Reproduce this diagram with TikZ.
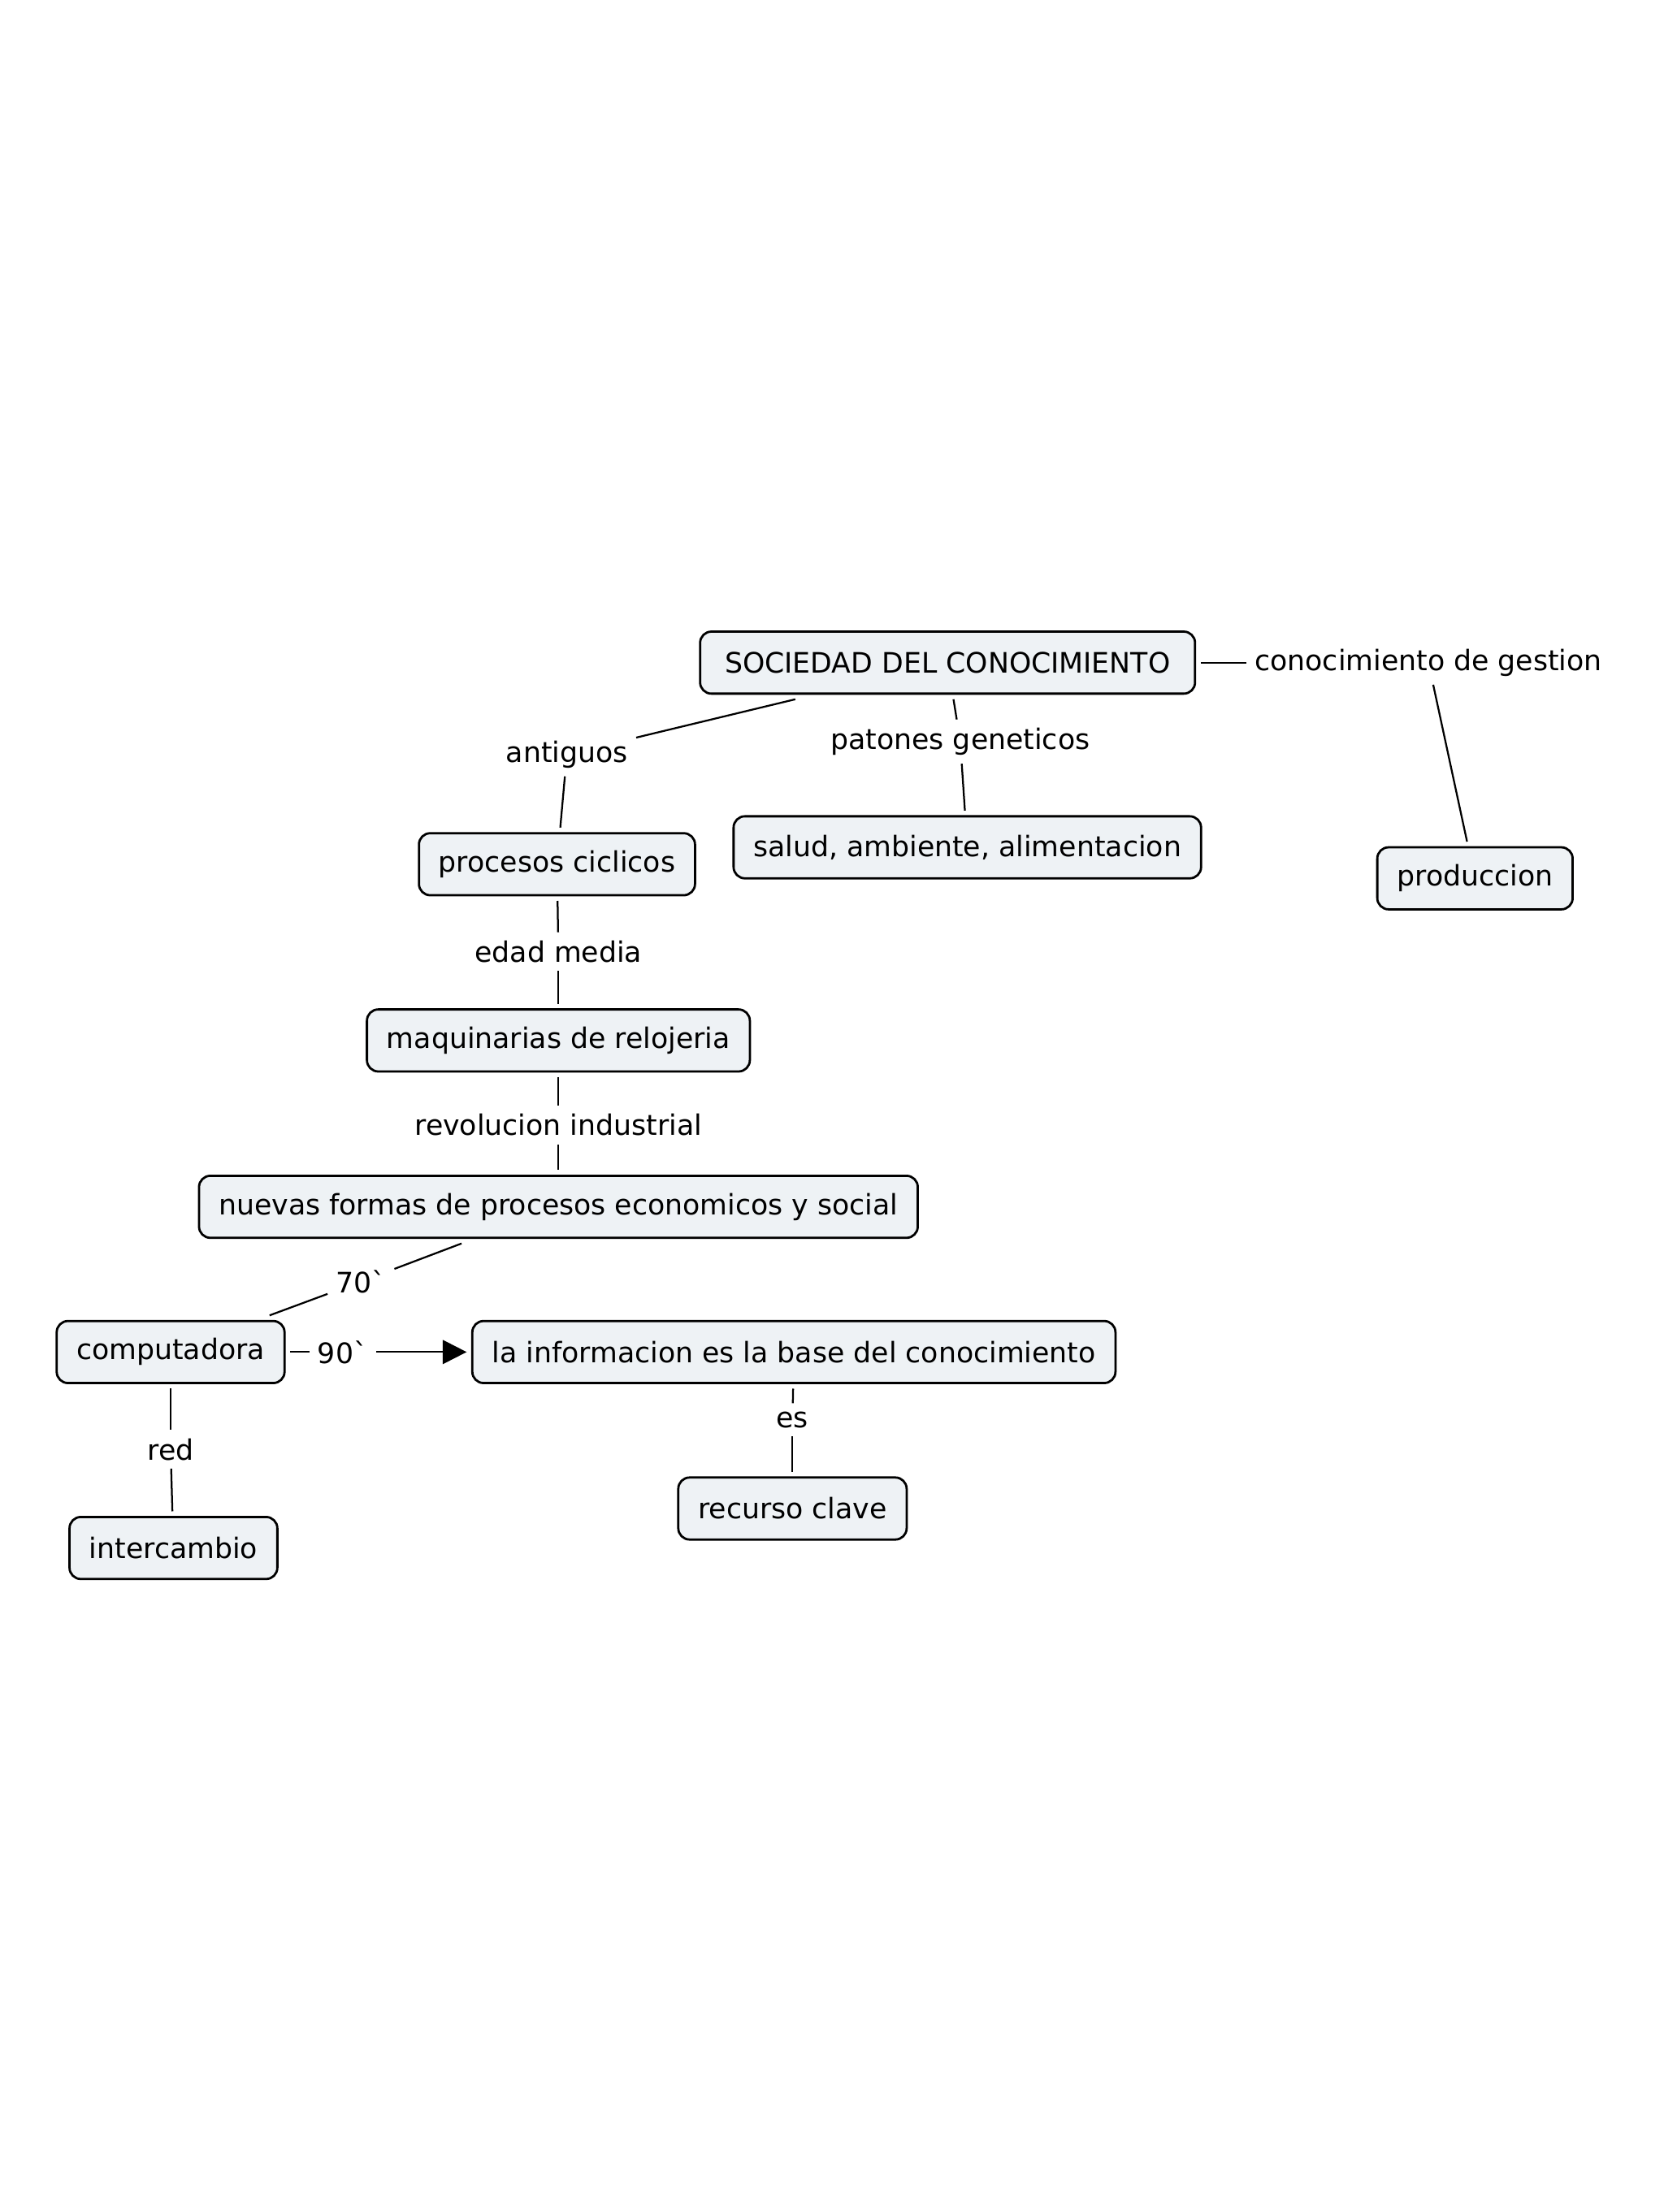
\documentclass[tikz,border=0pt]{standalone}
\usepackage{fontspec}
\setmainfont{DejaVu Sans}
\usepackage{xcolor}
\usetikzlibrary{shapes,arrows.meta,positioning}
\definecolor{boxfill}{RGB}{238,242,245}

\begin{document}
\begin{tikzpicture}[x=0.5pt, y=-0.5pt, node distance=31pt,
    font=\fontsize{10pt}{12pt}\selectfont,
    concept/.style={draw, rectangle, rounded corners=4pt, fill=boxfill, line width=0.8pt, minimum height=22pt, inner xsep=7pt, outer sep=2pt},
    linkword/.style={inner sep=3pt, outer sep=0pt},
    every path/.style={line width=0.65pt}]
    \useasboundingbox (0,0) rectangle (1180,1569);

    \node (root) [concept, minimum width=175.5pt] at (672,470) {SOCIEDAD DEL CONOCIMIENTO};
    \node (gestion) [linkword, right of=root, xshift=139.5pt] {conocimiento de gestion};
    \node (produccion) [concept, below of=gestion, xshift=16.5pt, yshift=-45.5pt] {produccion};
    \node (patones) [linkword, below of=root, xshift=4.5pt, yshift=3pt] {patones geneticos};
    \node (salud) [concept, below of=patones, xshift=2.5pt, yshift=-6.5pt] {salud, ambiente, alimentacion};
    \node (antiguos) [linkword, below of=root, xshift=-135pt, yshift=-1.5pt] {antiguos};
    \node (procesos) [concept, below of=antiguos, xshift=-3.5pt, yshift=-8pt] {procesos ciclicos};
    \node (edad) [linkword, below of=procesos, xshift=0.5pt] {edad media};
    \node (maquinarias) [concept, below of=edad, yshift=-0.5pt] {maquinarias de relojeria};
    \node (revolucion) [linkword, below of=maquinarias, yshift=1pt] {revolucion industrial};
    \node (nuevas) [concept, below of=revolucion, yshift=2pt] {nuevas formas de procesos economicos y social};
    \node (setenta) [linkword, below of=nuevas, xshift=-70pt, yshift=4.5pt] {70\textasciigrave};
    \node (computadora) [concept, below of=setenta, xshift=-67.5pt, yshift=6pt] {computadora};
    \node (noventa) [linkword, right of=computadora, xshift=30pt] {90\textasciigrave};
    \node (informacion) [concept, right of=noventa, xshift=129pt] {la informacion es la base del conocimiento};
    \node (es) [linkword, below of=informacion, xshift=-0.5pt, yshift=7pt] {es};
    \node (recurso) [concept, below of=es, yshift=-0.5pt] {recurso clave};
    \node (red) [linkword, below of=computadora, yshift=-3.5pt] {red};
    \node (intercambio) [concept, below of=red, xshift=1pt, yshift=-4pt] {intercambio};

    \draw (root) -- (gestion);
    \draw (gestion) -- (produccion);
    \draw (root) -- (patones);
    \draw (patones) -- (salud);
    \draw (root) -- (antiguos);
    \draw (antiguos) -- (procesos);
    \draw (procesos) -- (edad);
    \draw (edad) -- (maquinarias);
    \draw (maquinarias) -- (revolucion);
    \draw (revolucion) -- (nuevas);
    \draw (nuevas) -- (setenta);
    \draw (setenta) -- (computadora);
    \draw (computadora) -- (noventa);
    \draw [-{Triangle[length=8.5pt, width=8.5pt]}] (noventa) -- (informacion);
    \draw (informacion) -- (es);
    \draw (es) -- (recurso);
    \draw (computadora) -- (red);
    \draw (red) -- (intercambio);
\end{tikzpicture}
\end{document}
